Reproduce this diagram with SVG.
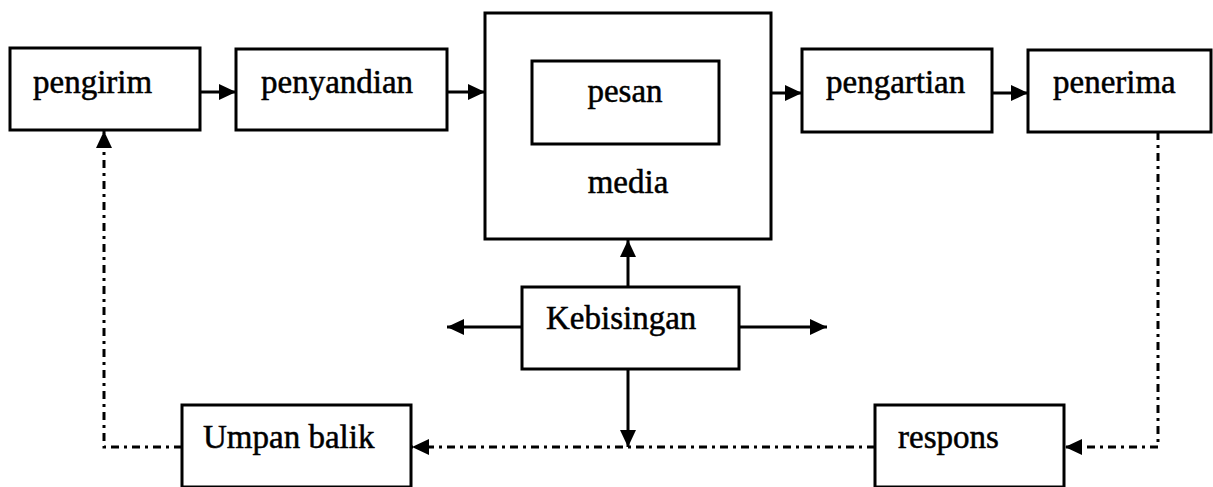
<svg xmlns="http://www.w3.org/2000/svg" width="1213" height="487" viewBox="0 0 1213 487">
<style>
.box{fill:#fff;stroke:#000;stroke-width:3}
.lbl{font-family:"Liberation Serif","Times New Roman",serif;font-size:33px;fill:#000;stroke:#000;stroke-width:0.5}
.ln{fill:none;stroke:#000;stroke-width:3}
.dd{fill:none;stroke:#000;stroke-width:3;stroke-dasharray:8 5 3 5}
</style>
<defs>
<marker id="ah" markerUnits="userSpaceOnUse" markerWidth="20" markerHeight="18" refX="17" refY="8" orient="auto">
<path d="M0,0 L17,8 L0,16 Z" fill="#000"/>
</marker>
</defs>
<rect width="1213" height="487" fill="#fff"/>
<g id="connectors">
<line class="ln" x1="200" y1="92" x2="236" y2="92" marker-end="url(#ah)"/>
<line class="ln" x1="447" y1="92" x2="485" y2="92" marker-end="url(#ah)"/>
<line class="ln" x1="771" y1="93" x2="802" y2="93" marker-end="url(#ah)"/>
<line class="ln" x1="992" y1="93" x2="1028" y2="93" marker-end="url(#ah)"/>
<line class="ln" x1="628" y1="287" x2="628" y2="240" marker-end="url(#ah)"/>
<line class="ln" x1="522" y1="327" x2="447" y2="327" marker-end="url(#ah)"/>
<line class="ln" x1="739" y1="327" x2="827" y2="327" marker-end="url(#ah)"/>
<line class="ln" x1="628" y1="369" x2="628" y2="447" marker-end="url(#ah)"/>
<polyline class="dd" points="1158,132 1158,447 1065,447" marker-end="url(#ah)"/>
<line class="dd" x1="875" y1="447" x2="412" y2="447" marker-end="url(#ah)"/>
<polyline class="dd" points="182,447 104,447 104,131" marker-end="url(#ah)"/>
</g>
<g id="pengirim"><rect class="box" x="10" y="48" width="190" height="82"/><text class="lbl" x="33" y="93">pengirim</text></g>
<g id="penyandian"><rect class="box" x="236" y="49" width="211" height="81"/><text class="lbl" x="261" y="93">penyandian</text></g>
<g id="media"><rect class="box" x="485" y="13" width="286" height="226"/><text class="lbl" x="628" y="193" text-anchor="middle">media</text></g>
<g id="pesan"><rect class="box" x="532" y="61" width="187" height="83"/><text class="lbl" x="625" y="102" text-anchor="middle">pesan</text></g>
<g id="pengartian"><rect class="box" x="802" y="49" width="190" height="83"/><text class="lbl" x="826" y="93">pengartian</text></g>
<g id="penerima"><rect class="box" x="1028" y="50" width="183" height="82"/><text class="lbl" x="1053" y="93">penerima</text></g>
<g id="kebisingan"><rect class="box" x="522" y="287" width="217" height="82"/><text class="lbl" x="546" y="329">Kebisingan</text></g>
<g id="umpan-balik"><rect class="box" x="182" y="405" width="229" height="82"/><text class="lbl" x="203" y="448">Umpan balik</text></g>
<g id="respons"><rect class="box" x="875" y="405" width="189" height="82"/><text class="lbl" x="898" y="448">respons</text></g>
</svg>
